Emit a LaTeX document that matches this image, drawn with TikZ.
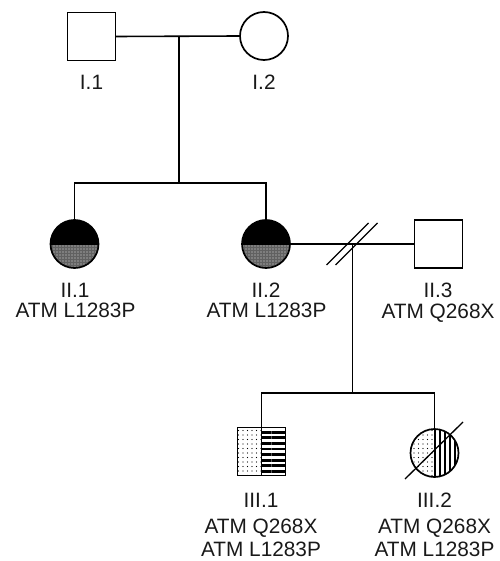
\documentclass[tikz,border=0pt]{standalone}
\usepackage{fontspec}
\setmainfont{Liberation Sans}
\usetikzlibrary{patterns.meta,calc}
\begin{document}
\begin{tikzpicture}[x=1pt,y=-1pt,
  ind/.style={draw=black, line width=1.7pt, inner sep=0pt, outer sep=0pt},
  male/.style={ind, rectangle, minimum size=48pt},
  female/.style={ind, circle, minimum size=48pt},
  lbl/.style={anchor=base, inner sep=0pt, text=black!90, font=\fontsize{20.8}{22}\selectfont},
  conn/.style={draw=black, line width=1.6pt},
  carrierII/.style={path picture={
    \fill[black] (path picture bounding box.north west) rectangle (path picture bounding box.east);
    \fill[black!62] (path picture bounding box.west) rectangle (path picture bounding box.south east);
    \fill[pattern={Dots[distance=3pt,radius=0.6pt]}, pattern color=white!75!gray]
      (path picture bounding box.west) rectangle (path picture bounding box.south east);
    \draw[black, line width=1pt] (path picture bounding box.west) -- (path picture bounding box.east);
  }},
]
\useasboundingbox (0,0) rectangle (499,561);

% generation I
\node[male]   (I1) at (91.5,36.5) {};
\node[female] (I2) at (264,36) {};
\node[lbl] (lI1) at (91.5,90) {I.1};
\node[lbl] (lI2) at (264,90) {I.2};

% generation II
\node[female, carrierII] (II1) at (74.5,244) {};
\node[female, carrierII] (II2) at (266,244) {};
\node[male] (II3) at (438.5,244) {};
\node[lbl] (lII1a) at (75,297) {II.1};
\node[lbl] (lII1b) at (75.5,317.5) {ATM L1283P};
\node[lbl] (lII2a) at (266,297) {II.2};
\node[lbl] (lII2b) at (266.5,317.5) {ATM L1283P};
\node[lbl] (lII3a) at (438,297) {II.3};
\node[lbl] (lII3b) at (438,318) {ATM Q268X};

% generation III
\node[male, path picture={
    \fill[pattern={Dots[distance=4.5pt,radius=0.65pt]}, pattern color=black]
      (path picture bounding box.north west) rectangle (path picture bounding box.south);
    \fill[pattern={Lines[angle=0,distance=5.6pt,line width=2.7pt]}, pattern color=black]
      (path picture bounding box.north) rectangle (path picture bounding box.south east);
    \draw[black, line width=1.3pt] (path picture bounding box.north) -- (path picture bounding box.south);
  }] (III1) at (261.5,451.5) {};
\node[female, path picture={
    \fill[pattern={Dots[distance=4.5pt,radius=0.65pt]}, pattern color=black]
      (path picture bounding box.north west) rectangle (path picture bounding box.south);
    \fill[pattern={Lines[angle=90,distance=5pt,line width=2.3pt]}, pattern color=black]
      (path picture bounding box.north) rectangle (path picture bounding box.south east);
    \draw[black, line width=1.3pt] (path picture bounding box.north) -- (path picture bounding box.south);
  }] (III2) at (434.5,453) {};
\node[lbl] (lIII1a) at (261,507) {III.1};
\node[lbl] (lIII1b) at (261,533) {ATM Q268X};
\node[lbl] (lIII1c) at (261,556.5) {ATM L1283P};
\node[lbl] (lIII2a) at (434.5,507) {III.2};
\node[lbl] (lIII2b) at (434.5,533) {ATM Q268X};
\node[lbl] (lIII2c) at (434.5,556.5) {ATM L1283P};

% connectors
\coordinate (m1) at (179,36);
\coordinate (s1) at (179,183);
\draw[conn] (I1.east) -- (I2.west);
\draw[conn] (m1) -- (s1);
\draw[conn] (II1.north) |- (s1) -| (II2.north);

\coordinate (m2) at (352.5,244);
\coordinate (s2) at (352.5,393);
\draw[conn] (II2.east) -- (II3.west);
\draw[conn] (m2) -- (s2);
\draw[conn] (III1.north) |- (s2) -| (III2.north);

% separation (double slash)
\draw[conn, line width=1.3pt] ($(m2)+(-26,21)$) -- ($(m2)+(16,-21)$);
\draw[conn, line width=1.3pt] ($(m2)+(-17,21)$) -- ($(m2)+(25,-21)$);

% deceased
\draw[conn, line width=1.3pt] ($(III2.center)+(-29.5,26)$) -- ($(III2.center)+(28.5,-31)$);
\end{tikzpicture}
\end{document}
